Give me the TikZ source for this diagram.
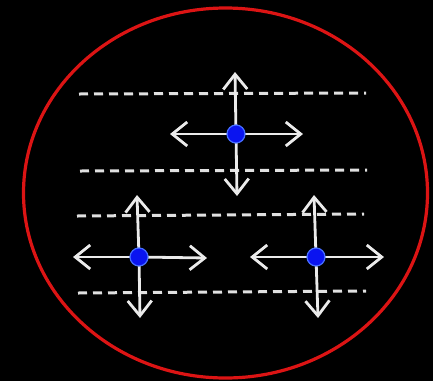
\documentclass[tikz,border=0pt]{standalone}
\usetikzlibrary{arrows.meta}
\definecolor{dotblue}{RGB}{10,20,240}
\definecolor{dotedge}{RGB}{70,110,255}
\definecolor{ringred}{RGB}{220,20,20}
\begin{document}
\begin{tikzpicture}[x=1pt,y=-1pt,
  guide/.style={draw=white!88!black,line width=3pt,dash pattern=on 9pt off 6pt},
  move/.style={draw=white!92!black,line width=2.8pt,-{Straight Barb[length=15pt,width=24pt,line width=2.8pt]}},
  atom/.style={circle,fill=dotblue,draw=dotedge,line width=1.2pt,inner sep=0pt,minimum size=18pt},
  ring/.style={draw=ringred,line width=3.2pt}]
\fill[black] (0,0) rectangle (433,381);
\useasboundingbox (0,0) rectangle (433,381);
\draw[ring] (225.5,193) ellipse [x radius=202, y radius=185];
% dashed lines
\coordinate (l1a) at (79,94);  \coordinate (l1b) at (366,93);
\coordinate (l2a) at (80,171); \coordinate (l2b) at (367,170);
\coordinate (l3a) at (77,216); \coordinate (l3b) at (364,214);
\coordinate (l4a) at (78,293); \coordinate (l4b) at (366,291);
\draw[guide] (l1a) -- (l1b);
\draw[guide] (l2a) -- (l2b);
\draw[guide] (l3a) -- (l3b);
\draw[guide] (l4a) -- (l4b);
% atom positions
\coordinate (pA) at (236,134);
\coordinate (pB) at (139,257);
\coordinate (pC) at (316,257);
% arrow ends
\coordinate (Au) at (235,72);  \coordinate (Ad) at (237,196);
\coordinate (Al) at (170,134); \coordinate (Ar) at (303,134);
\coordinate (Bu) at (137,195); \coordinate (Bd) at (140,318);
\coordinate (Bl) at (73,257);  \coordinate (Br) at (207,258);
\coordinate (Cu) at (314,195); \coordinate (Cd) at (318,318);
\coordinate (Cl) at (250,257); \coordinate (Cr) at (384,257);
\foreach \p in {A,B,C}{
  \draw[move] (p\p) -- (\p u);
  \draw[move] (p\p) -- (\p d);
  \draw[move] (p\p) -- (\p l);
  \draw[move] (p\p) -- (\p r);
}
\node[atom] (a) at (pA) {};
\node[atom] (b) at (pB) {};
\node[atom] (c) at (pC) {};
\end{tikzpicture}
\end{document}
